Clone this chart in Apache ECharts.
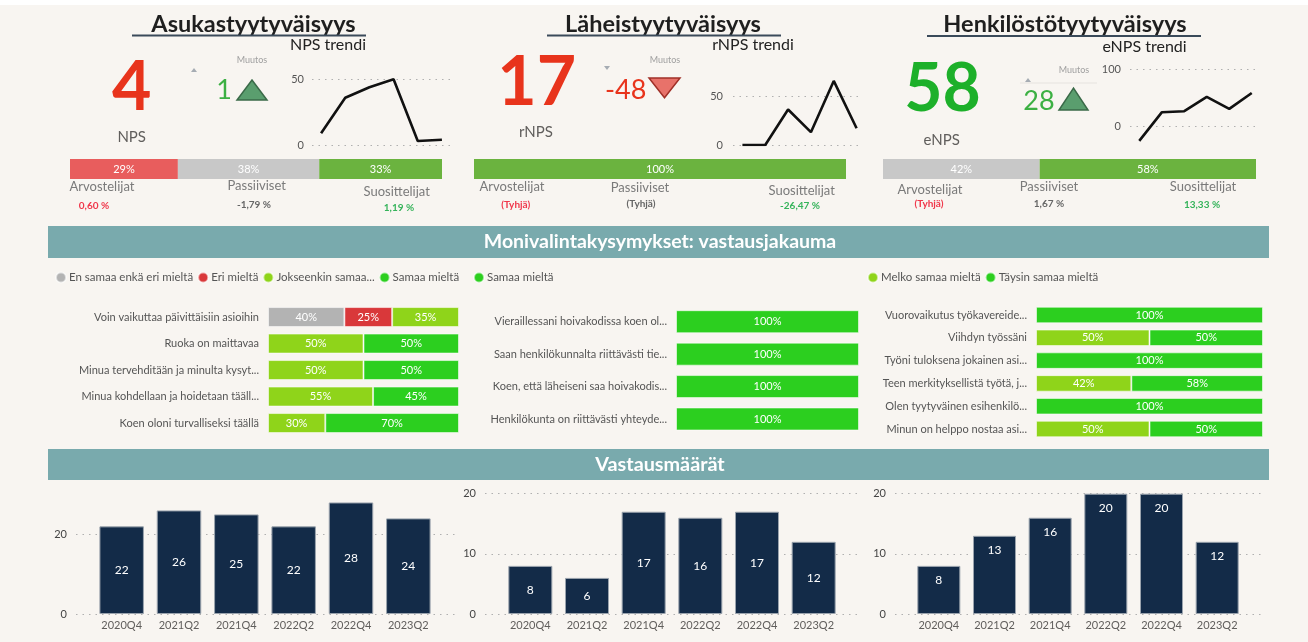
<!DOCTYPE html>
<html lang="fi">
<head>
<meta charset="UTF-8">
<title>Tyytyväisyys</title>
<script src="https://cdn.jsdelivr.net/npm/echarts@6/dist/echarts.min.js"></script>
<style>
  html, body { margin: 0; padding: 0; background: #f8f5f1; }
  #main { width: 1308px; height: 642px; }
</style>
</head>
<body>
<div id="main"></div>
<script>
// --- data ---
var quarters = ['2020Q4', '2021Q2', '2021Q4', '2022Q2', '2022Q4', '2023Q2'];

var npsTrend = [9, 36, 44, 50, 3, 4];
var rnpsTrend = [0, 0, 36, 13, 65, 17];
var enpsTrend = [-26, 24, 26, 51, 30, 58];

var kpiValues = [4, 17, 58];
var kpiChanges = [1, -48, 28];

var shareNames = ['Arvostelijat', 'Passiiviset', 'Suosittelijat'];
var asukasShares = [29, 38, 33];
var laheisShares = [null, null, 100];
var henkilostoShares = [null, 42, 58];
var asukasShareChange = ['0,60 %', '-1,79 %', '1,19 %'];
var laheisShareChange = ['(Tyhjä)', '(Tyhjä)', '-26,47 %'];
var henkilostoShareChange = ['(Tyhjä)', '1,67 %', '13,33 %'];

var asukasQuestions = ['Voin vaikuttaa päivittäisiin asioihin', 'Ruoka on maittavaa',
  'Minua tervehditään ja minulta kysyt...', 'Minua kohdellaan ja hoidetaan tääll...',
  'Koen oloni turvalliseksi täällä'];
var asukasNeutral = [40, null, null, null, null];
var asukasDisagree = [25, null, null, null, null];
var asukasSomewhat = [35, 50, 50, 55, 30];
var asukasAgree = [null, 50, 50, 45, 70];

var laheisQuestions = ['Vieraillessani hoivakodissa koen ol...', 'Saan henkilökunnalta riittävästi tie...',
  'Koen, että läheiseni saa hoivakodis...', 'Henkilökunta on riittävästi yhteyde...'];
var laheisAgree = [100, 100, 100, 100];

var henkilostoQuestions = ['Vuorovaikutus työkavereide...', 'Viihdyn työssäni', 'Työni tuloksena jokainen asi...',
  'Teen merkityksellistä työtä, j...', 'Olen tyytyväinen esihenkilö...', 'Minun on helppo nostaa asi...'];
var henkilostoFairly = [null, 50, null, 42, null, 50];
var henkilostoFully = [100, 50, 100, 58, 100, 50];

var asukasCounts = [22, 26, 25, 22, 28, 24];
var laheisCounts = [8, 6, 17, 16, 17, 12];
var henkilostoCounts = [8, 13, 16, 20, 20, 12];

// --- styles ---
var FONT = 'Lato';
var shareColors = ['#e85d5d', '#c8c8c8', '#6bb33f'];
var cGray = '#b3b3b3', cRed = '#d9383a', cLime = '#8fd41a', cGreen = '#2ccf1f';
var navy = '#132b48';
var dotted = { type: [1.5, 5], color: '#b0b0b0', width: 1.2 };

var grids = [], xAxes = [], yAxes = [], series = [];

function addGrid(g, x, y) {
  grids.push(g);
  x.gridIndex = grids.length - 1;
  y.gridIndex = grids.length - 1;
  xAxes.push(x);
  yAxes.push(y);
  return grids.length - 1;
}

var hidden = { show: false };
function pctLabel(p) { return p.value == null ? '' : p.value + '%'; }

// top stacked share bars
function shareBar(left, width, shares, key) {
  var gi = addGrid({ left: left, top: 159, width: width, height: 20 },
    { type: 'value', min: 0, max: 100, show: false },
    { type: 'category', data: ['x'], show: false });
  shares.forEach(function (v, i) {
    series.push({
      type: 'bar', name: shareNames[i], stack: key, xAxisIndex: gi, yAxisIndex: gi,
      barWidth: 20, data: [v], itemStyle: { color: shareColors[i] }, silent: true,
      label: { show: true, position: 'inside', color: '#fff', fontSize: 11, fontFamily: FONT, formatter: pctLabel }
    });
  });
}
shareBar(70, 372, asukasShares, 's1');
shareBar(474, 372, laheisShares, 's2');
shareBar(883, 373, henkilostoShares, 's3');

// trend charts: one grid for the dotted guides + labels, one for the line
function trend(bg, ln, data) {
  addGrid({ left: bg.left, top: bg.top, width: bg.width, height: bg.height },
    { type: 'category', data: quarters, show: false },
    { type: 'value', min: bg.min, max: bg.max, interval: bg.max - bg.min, axisLine: hidden, axisTick: hidden,
      axisLabel: { color: '#555', fontSize: 11, fontFamily: FONT, margin: bg.margin }, splitLine: { lineStyle: dotted } });
  var gi = addGrid({ left: ln.left, top: ln.top, width: ln.width, height: ln.height },
    { type: 'category', data: quarters, show: false, boundaryGap: true },
    { type: 'value', min: ln.min, max: ln.max, show: false, splitLine: hidden });
  series.push({ type: 'line', xAxisIndex: gi, yAxisIndex: gi, data: data, symbol: 'none', silent: true,
    lineStyle: { color: '#111', width: 2.6 } });
}
trend({ left: 312, top: 79.3, width: 140, height: 65.7, min: 0, max: 50, margin: 8 },
      { left: 309, top: 79.3, width: 145, height: 65.7, min: 0, max: 50 }, npsTrend);
trend({ left: 733, top: 96, width: 127, height: 49, min: 0, max: 50, margin: 10 },
      { left: 731, top: 76, width: 137, height: 69, min: 0, max: 70 }, rnpsTrend);
trend({ left: 1130, top: 69, width: 127, height: 57, min: 0, max: 100, margin: 9 },
      { left: 1128, top: 69, width: 135, height: 85.5, min: -50, max: 100 }, enpsTrend);

// multiple choice distributions
function questionGrid(g, cats, barW, parts) {
  var gi = addGrid(g,
    { type: 'value', min: 0, max: 100, show: false },
    { type: 'category', data: cats, inverse: true, axisLine: hidden, axisTick: hidden,
      axisLabel: { color: '#555', fontSize: 11, fontFamily: FONT, margin: 9 } });
  parts.forEach(function (p) {
    series.push({
      type: 'bar', name: p.name, stack: 'q' + gi, xAxisIndex: gi, yAxisIndex: gi, barWidth: barW,
      data: p.data, silent: true,
      itemStyle: { color: p.color, borderColor: 'rgba(255,255,255,0.55)', borderWidth: 1 },
      label: { show: true, position: 'inside', color: '#fff', fontSize: 11, fontFamily: FONT, formatter: pctLabel }
    });
  });
}
questionGrid({ left: 268, top: 303.8, width: 191, height: 132.5 }, asukasQuestions, 20, [
  { name: 'En samaa enkä eri mieltä', data: asukasNeutral, color: cGray },
  { name: 'Eri mieltä', data: asukasDisagree, color: cRed },
  { name: 'Jokseenkin samaa mieltä', data: asukasSomewhat, color: cLime },
  { name: 'Samaa mieltä', data: asukasAgree, color: cGreen }
]);
questionGrid({ left: 676, top: 305.5, width: 183, height: 129.7 }, laheisQuestions, 23, [
  { name: 'Samaa mieltä', data: laheisAgree, color: cGreen }
]);
questionGrid({ left: 1036, top: 303.6, width: 227, height: 136.8 }, henkilostoQuestions, 16.5, [
  { name: 'Melko samaa mieltä', data: henkilostoFairly, color: cLime },
  { name: 'Täysin samaa mieltä', data: henkilostoFully, color: cGreen }
]);

// response counts
function counts(bg, bar, data, labelPos) {
  addGrid({ left: bg.left, top: bg.top, width: bg.width, height: bg.height },
    { type: 'category', data: quarters, show: false },
    { type: 'value', min: 0, max: bg.max, interval: bg.interval, axisLine: hidden, axisTick: hidden,
      axisLabel: { color: '#444', fontSize: 11, fontFamily: FONT, margin: 9 }, splitLine: { lineStyle: dotted } });
  var gi = addGrid({ left: bar.left, top: bar.top, width: bar.width, height: bar.height },
    { type: 'category', data: quarters, axisLine: hidden, axisTick: hidden,
      axisLabel: { color: '#605e5c', fontSize: 11, fontFamily: FONT, margin: 6 } },
    { type: 'value', min: 0, max: bar.max, show: false, splitLine: hidden });
  series.push({
    type: 'bar', xAxisIndex: gi, yAxisIndex: gi, data: data, barWidth: bar.barWidth, silent: true,
    itemStyle: { color: navy, borderColor: '#9aa3ad', borderWidth: 1 },
    label: { show: true, position: labelPos, distance: 8, color: '#fff', fontSize: 12, fontFamily: FONT }
  });
}
counts({ left: 76, top: 534.3, width: 379, height: 79.7, max: 20, interval: 20 },
       { left: 93, top: 494.5, width: 344, height: 119.5, max: 30, barWidth: 44.5 }, asukasCounts, 'inside');
counts({ left: 485, top: 493.7, width: 373, height: 120.3, max: 20, interval: 10 },
       { left: 502, top: 493.7, width: 340, height: 120.3, max: 20, barWidth: 44 }, laheisCounts, 'inside');
counts({ left: 895, top: 493.7, width: 367, height: 120.3, max: 20, interval: 10 },
       { left: 911, top: 493.7, width: 334, height: 120.3, max: 20, barWidth: 43 }, henkilostoCounts, 'insideTop');

// --- text and decoration ---
function T(x, y, text, size, color, extra) {
  return { type: 'text', x: x, y: y, silent: true, z: 10,
    style: Object.assign({ text: text, fontSize: size, fill: color, fontFamily: FONT, align: 'center', verticalAlign: 'middle' }, extra || {}) };
}
function L(x1, x2, y, color, w) {
  return { type: 'line', silent: true, z: 10, shape: { x1: x1, y1: y, x2: x2, y2: y }, style: { stroke: color, lineWidth: w } };
}
function tri(points, fill, stroke) {
  return { type: 'polygon', silent: true, z: 10, shape: { points: points }, style: { fill: fill, stroke: stroke, lineWidth: stroke ? 1.5 : 0 } };
}

var red = '#e8341c', green = '#1db02a', chGreen = '#3cb043';
var valRed = '#f0364a', valGray = '#666', valGreen = '#35b35a';
var grey = '#7a7a7a';
var bold = { fontWeight: 'bold' };

var graphic = [
  { type: 'rect', silent: true, shape: { x: 0, y: 0, width: 1308, height: 5 }, style: { fill: '#ffffff' } },

  T(253.5, 24, 'Asukastyytyväisyys', 23.5, '#1f1f1f', bold), L(132, 366, 35.5, '#3a4a5a', 2),
  T(663, 24, 'Läheistyytyväisyys', 23.5, '#1f1f1f', bold), L(547, 781, 35.5, '#3a4a5a', 2),
  T(1065, 24, 'Henkilöstötyytyväisyys', 23.5, '#1f1f1f', bold), L(927, 1201, 36, '#3a4a5a', 2),

  T(328, 45, 'NPS trendi', 16, '#222'),
  T(753, 45, 'rNPS trendi', 16, '#222'),
  T(1144.5, 46.5, 'eNPS trendi', 16, '#222'),

  T(131.7, 88, String(kpiValues[0]), 68, red, bold),
  T(536.7, 83, String(kpiValues[1]), 68, red, bold),
  T(942.5, 90, String(kpiValues[2]), 66, green, bold),
  T(131.7, 136.7, 'NPS', 15, '#605e5c'),
  T(536, 131.7, 'rNPS', 15, '#605e5c'),
  T(941.7, 140, 'eNPS', 15, '#605e5c'),

  T(252, 60, 'Muutos', 9, '#a0a0a0'),
  T(665, 60, 'Muutos', 9, '#a0a0a0'),
  T(1074, 70, 'Muutos', 9, '#a0a0a0'),
  L(1020, 1097, 83, '#e6e3df', 1),
  tri([[191, 72], [197, 72], [194, 68]], '#a6acb3'),
  tri([[604, 66], [610, 66], [607, 70]], '#a6acb3'),
  tri([[1025, 82], [1031, 82], [1028, 78]], '#a6acb3'),

  T(224, 90, String(kpiChanges[0]), 27, chGreen),
  T(625.7, 90, String(kpiChanges[1]), 27, red),
  T(1039, 101.7, String(kpiChanges[2]), 27, chGreen),
  tri([[237, 100], [267, 100], [252, 80]], '#5a9e6e', '#3a6a48'),
  tri([[649, 78], [680, 78], [664.5, 97.7]], '#e8726a', '#a03028'),
  tri([[1059, 110], [1088, 110], [1073.5, 88]], '#5a9e6e', '#3a6a48'),

  T(102, 186.7, shareNames[0], 13, grey), T(256.7, 186, shareNames[1], 13, grey), T(396.7, 192, shareNames[2], 13, grey),
  T(94, 206, asukasShareChange[0], 10, valRed, bold),
  T(254, 204.7, asukasShareChange[1], 10, valGray, bold),
  T(399, 208, asukasShareChange[2], 10, valGreen, bold),

  T(512, 186.7, shareNames[0], 13, grey), T(640, 188, shareNames[1], 13, grey), T(801.7, 191, shareNames[2], 13, grey),
  T(515.7, 205, laheisShareChange[0], 10, valRed, bold),
  T(641, 204, laheisShareChange[1], 10, valGray, bold),
  T(800, 206, laheisShareChange[2], 10, valGreen, bold),

  T(930, 190, shareNames[0], 13, grey), T(1049, 187, shareNames[1], 13, grey), T(1203, 187, shareNames[2], 13, grey),
  T(929, 204, henkilostoShareChange[0], 10, valRed, bold),
  T(1049, 204, henkilostoShareChange[1], 10, valGray, bold),
  T(1202, 205, henkilostoShareChange[2], 10, valGreen, bold),

  { type: 'rect', silent: true, z: 5, shape: { x: 48, y: 226, width: 1221, height: 32 }, style: { fill: '#79aaad' } },
  T(660, 242, 'Monivalintakysymykset: vastausjakauma', 19.5, '#fff', bold),
  { type: 'rect', silent: true, z: 5, shape: { x: 48, y: 449, width: 1221, height: 31 }, style: { fill: '#79aaad' } },
  T(660, 465, 'Vastausmäärät', 19.8, '#fff', bold)
];

function legend(left, names) {
  return {
    left: left, top: 271.5, padding: 0, itemGap: 4, itemWidth: 10, itemHeight: 10, icon: 'circle',
    data: names, selectedMode: false,
    textStyle: { color: '#555', fontSize: 11.5, fontFamily: FONT, padding: [0, 0, 0, -2] },
    formatter: function (n) { return n === 'Jokseenkin samaa mieltä' ? 'Jokseenkin samaa...' : n; }
  };
}

var chart = echarts.init(document.getElementById('main'));
chart.setOption({
  backgroundColor: '#f8f5f1',
  animation: false,
  textStyle: { fontFamily: FONT },
  grid: grids,
  xAxis: xAxes,
  yAxis: yAxes,
  series: series,
  legend: [
    legend(55, ['En samaa enkä eri mieltä', 'Eri mieltä', 'Jokseenkin samaa mieltä', 'Samaa mieltä']),
    legend(473, ['Samaa mieltä']),
    legend(867, ['Melko samaa mieltä', 'Täysin samaa mieltä'])
  ],
  graphic: graphic
});
</script>
</body>
</html>
